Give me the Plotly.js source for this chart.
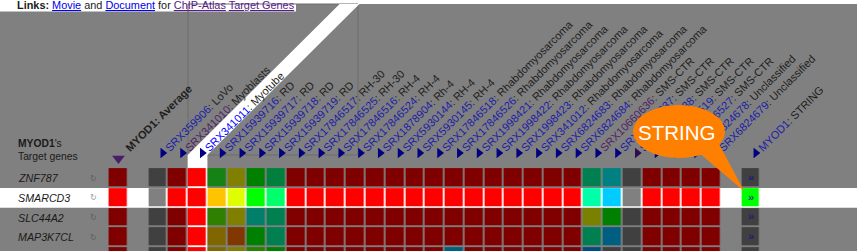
<!DOCTYPE html>
<html><head><meta charset="utf-8">
<script src="https://cdn.plot.ly/plotly-3.0.1.min.js"></script>
<style>html,body{margin:0;padding:0;background:#fff;overflow:hidden}#chart{width:860px;height:251px}</style>
</head><body><div id="chart"></div>
<script>
// ---------------- data ----------------
const geneNames = ['ZNF787', 'SMARCD3', 'SLC44A2', 'MAP3K7CL', ''];
const srxIds = ['SRX359906','SRX341010','SRX341011','SRX15939716','SRX15939717','SRX15939718','SRX15939719',
  'SRX17846517','SRX17846525','SRX17846516','SRX17846524','SRX1878904','SRX5930144','SRX5930145',
  'SRX17846518','SRX17846526','SRX1998421','SRX1998422','SRX1998423','SRX341012','SRX6824683','SRX6824684',
  'SRX10660636','SRX10660637','SRX10660638','SRX17846519','SRX17846527','SRX6824678','SRX6824679'];
const cellTypes = ['LoVo','Myoblasts','Myotube','RD','RD','RD','RD',
  'RH-30','RH-30','RH-4','RH-4','Rh-4','RH-4','RH-4',
  'Rhabdomyosarcoma','Rhabdomyosarcoma','Rhabdomyosarcoma','Rhabdomyosarcoma','Rhabdomyosarcoma','Rhabdomyosarcoma','Rhabdomyosarcoma','Rhabdomyosarcoma',
  'SMS-CTR','SMS-CTR','SMS-CTR','SMS-CTR','SMS-CTR','Unclassified','Unclassified'];
const linkState = ['link','visited','current','link','link','link','link','link','link','link','link','link','link','link',
  'link','link','link','link','link','link','link','link','visited','link','link','link','link','link','link'];
const averageLabel = 'MYOD1: Average';
const stringLabel = ['MYOD1', ': STRING'];
const selectedGene = 'SMARCD3';
const selectedExperiment = 'SRX341011';

// cell colours per gene row: [average, SRX columns 0..28, STRING]
const avgCells = ['#800000', '#ff0000', '#800000', '#800000', '#800000'];
const stringCells = ['#404040', '#00ff00', '#404040', '#404040', '#404040'];
const srxCells = [
  ['#404040','#800000','#ff0000','#148214','#808000','#008000','#00803c',
   '#800000','#800000','#800000','#800000','#800000','#800000','#800000','#800000','#800000','#800000','#800000','#800000','#800000','#800000','#800000',
   '#008050','#008080','#404040','#800000','#800000','#800000','#800000'],
  ['#808080','#ff0000','#ff0000','#ffc400','#dfff00','#00ff00','#00ff6a',
   '#ff0000','#ff0000','#ff0000','#ff0000','#ff0000','#ff0000','#ff0000','#ff0000','#ff0000','#ff0000','#ff0000','#ff0000','#ff0000','#ff0000','#ff0000',
   '#00ffa8','#00ccff','#808080','#ff0000','#ff0000','#ff0000','#ff0000'],
  ['#404040','#800000','#ff0000','#2f8000','#808000','#00806a','#008050',
   '#800000','#800000','#800000','#800000','#800000','#800000','#800000','#800000','#800000','#800000','#800000','#800000','#800000','#800000','#800000',
   '#7a8000','#008000','#404040','#800000','#800000','#800000','#800000'],
  ['#404040','#800000','#ff0000','#806600','#803800','#008000','#008050',
   '#800000','#800000','#800000','#800000','#800000','#800000','#800000','#800000','#800000','#800000','#800000','#800000','#800000','#800000','#800000',
   '#008050','#005f80','#404040','#800000','#800000','#800000','#800000'],
  ['#404040','#800000','#ff0000','#806800','#808000','#2a8000','#008000',
   '#800000','#800000','#800000','#800000','#800000','#800000','#800000','#800000','#006080','#800000','#800000','#800000','#800000','#800000','#800000',
   '#004c80','#404040','#404040','#800000','#800000','#800000','#800000']
];

// ---------------- geometry helpers (layout only) ----------------
const W = 860, H = 251;
const X0 = 158, DX = 19.77, Y0 = 178, DY = 19.8;
const px = x => x / W, py = y => 1 - y / H;
const xr = [(0 - X0) / DX, (W - X0) / DX];
const yr = [(H - Y0) / DY, (0 - Y0) / DY];
const yData = y => (y - Y0) / DY;
const FONT = 'Liberation Sans, Arial, Helvetica, sans-serif';

// column positions: average, gap, SRX columns, gap, STRING
const nSrx = srxIds.length;
const avgPos = -2, stringPos = nSrx + 1;
const colPos = [];
for (let i = avgPos; i <= stringPos; i++) colPos.push(i);

// build colour index matrix
const palette = [];
const idx = c => { if (c == null) return null; let k = palette.indexOf(c); if (k < 0) { palette.push(c); k = palette.length - 1; } return k; };
const z = geneNames.map((g, r) => {
  const row = [idx(avgCells[r]), null];
  srxCells[r].forEach(c => row.push(idx(c)));
  row.push(null, idx(stringCells[r]));
  return row;
});
const n = palette.length;
const colorscale = [];
palette.forEach((c, i) => { colorscale.push([i / n, c]); colorscale.push([(i + 1) / n, c]); });
const rowPos = geneNames.map((g, i) => i);
const namedRows = rowPos.filter(r => geneNames[r]);

const traces = [];
traces.push({
  type: 'heatmap', x: colPos, y: rowPos, z: z, zmin: -0.5, zmax: n - 0.5,
  colorscale: colorscale, showscale: false, xgap: 1.8, ygap: 1.8, hoverinfo: 'skip',
  xaxis: 'x', yaxis: 'y'
});
// STRING link marks
traces.push({
  type: 'scatter', mode: 'text', x: namedRows.map(() => stringPos), y: namedRows,
  text: namedRows.map(() => '»'), textfont: {family: FONT, size: 11, color: '#10108a'},
  hoverinfo: 'skip', xaxis: 'x', yaxis: 'y'
});
// column header triangles
const triX = [], triC = [];
srxIds.forEach((s, i) => { triX.push(i + 0.24); triC.push(i === 24 ? '#2e0c50' : '#000080'); });
triX.push(stringPos + 0.24); triC.push('#000080');
traces.push({
  type: 'scatter', mode: 'markers', x: triX, y: triX.map(() => yData(153)),
  marker: {symbol: 'triangle-right', size: 9, color: triC, line: {width: 0}},
  hoverinfo: 'skip', xaxis: 'x2', yaxis: 'y'
});
traces.push({
  type: 'scatter', mode: 'markers', x: [avgPos], y: [yData(158.5)],
  marker: {symbol: 'triangle-down', size: 11, color: '#4a1d68', line: {width: 0}},
  hoverinfo: 'skip', xaxis: 'x', yaxis: 'y'
});

// tick labels for the experiment header
const tickVals = [avgPos], tickText = ['<b>' + averageLabel + '</b>'];
srxIds.forEach((s, i) => {
  const col = linkState[i] === 'visited' ? '#4d2466' : (linkState[i] === 'current' ? '#0000ff' : '#1c1ca8');
  tickVals.push(i);
  tickText.push('<span style="color:' + col + '">' + s + '</span>: ' + cellTypes[i]);
});
tickVals.push(stringPos);
tickText.push('<span style="color:#1c1ca8">' + stringLabel[0] + '</span>' + stringLabel[1]);

const selCol = srxIds.indexOf(selectedExperiment);
const selRow = geneNames.indexOf(selectedGene);
const selL = X0 + (selCol - 0.5) * DX, selR = X0 + (selCol + 0.5) * DX;
const kink = 155;

const shapes = [
  {type: 'rect', xref: 'paper', yref: 'paper', x0: 0, x1: px(857), y0: 0, y1: py(4), fillcolor: '#808080', line: {width: 0}, layer: 'below'},
  {type: 'rect', xref: 'paper', yref: 'paper', x0: 0, x1: px(296), y0: py(11.5), y1: 1, fillcolor: '#ffffff', line: {width: 0}, layer: 'below'},
  {type: 'rect', xref: 'paper', yref: 'paper', x0: px(188), x1: px(358), y0: py(155), y1: py(4), fillcolor: 'rgba(0,0,0,0)', line: {width: 1, color: '#6c6c6c'}, layer: 'below'},
  {type: 'path', xref: 'paper', yref: 'paper', layer: 'below', fillcolor: '#ffffff', line: {width: 0},
   path: 'M' + px(selL) + ',' + py(H) + 'L' + px(selL) + ',' + py(kink) + 'L' + px(selL + kink - 3) + ',' + py(4) +
         'L' + px(selR + kink - 3) + ',' + py(4) + 'L' + px(selR) + ',' + py(kink) + 'L' + px(selR) + ',' + py(H) + 'Z'},
  {type: 'rect', xref: 'paper', yref: 'y', x0: 0, x1: px(857), y0: selRow - 0.5, y1: selRow + 0.5, fillcolor: '#ffffff', line: {width: 0}, layer: 'below'},
  // STRING callout
  {type: 'circle', xref: 'paper', yref: 'paper', x0: px(633), x1: px(725), y0: py(158), y1: py(105), fillcolor: '#ff8000', line: {width: 0}, layer: 'above'},
  {type: 'path', xref: 'paper', yref: 'paper', layer: 'above', fillcolor: '#ff8000', line: {width: 0},
   path: 'M' + px(698) + ',' + py(152) + 'L' + px(719) + ',' + py(144) + 'L' + px(744) + ',' + py(191) + 'Z'}
];

const annotations = [
  {xref: 'paper', yref: 'paper', x: px(15), y: py(4.6), xanchor: 'left', yanchor: 'middle', showarrow: false,
   font: {family: FONT, size: 10.9, color: '#1a1a1a'},
   text: '<b>Links:</b> <span style="color:#0000ee;text-decoration:underline">Movie</span> and <span style="color:#0000ee;text-decoration:underline">Document</span> for <span style="color:#551a8b;text-decoration:underline">ChIP-Atlas</span> <span style="color:#551a8b;text-decoration:underline">Target Genes</span>'},
  {xref: 'paper', yref: 'paper', x: px(16), y: py(143), xanchor: 'left', yanchor: 'middle', showarrow: false,
   font: {family: FONT, size: 10.3, color: '#1a1a1a'}, text: '<b>MYOD1</b>\'s'},
  {xref: 'paper', yref: 'paper', x: px(16), y: py(156.5), xanchor: 'left', yanchor: 'middle', showarrow: false,
   font: {family: FONT, size: 10.3, color: '#1a1a1a'}, text: 'Target genes'},
  {xref: 'paper', yref: 'paper', x: px(676), y: py(132.5), xanchor: 'center', yanchor: 'middle', showarrow: false,
   font: {family: FONT, size: 20.5, color: '#ffffff'}, text: 'STRING'}
];
namedRows.forEach(r => {
  const g = geneNames[r];
  annotations.push({xref: 'paper', yref: 'y', x: px(16), y: r, xanchor: 'left', yanchor: 'middle', showarrow: false,
    font: {family: FONT, size: 10.7, color: '#1a1a1a'}, text: '<i>' + g + '</i>'});
  annotations.push({xref: 'paper', yref: 'y', x: px(93), y: r, xanchor: 'center', yanchor: 'middle', showarrow: false,
    font: {family: 'DejaVu Sans, sans-serif', size: 8, color: r === selRow ? '#9a9a9a' : '#5e5e5e'}, text: '↻'});
});

const layout = {
  width: W, height: H, margin: {l: 0, r: 0, t: 0, b: 0, pad: 0},
  paper_bgcolor: '#ffffff', plot_bgcolor: 'rgba(0,0,0,0)', showlegend: false,
  xaxis: {range: xr, visible: false, fixedrange: true, domain: [0, 1]},
  xaxis2: {range: xr, overlaying: 'x', anchor: 'free', position: py(156), side: 'top',
    tickmode: 'array', tickvals: tickVals, ticktext: tickText, tickangle: -45, ticklabelshift: 8,
    ticks: '', showgrid: false, zeroline: false, showline: false, fixedrange: true,
    tickfont: {family: FONT, size: 11, color: '#1e1e1e'}},
  yaxis: {range: yr, visible: false, fixedrange: true, domain: [0, 1]},
  shapes: shapes, annotations: annotations
};
Plotly.newPlot('chart', traces, layout, {staticPlot: true, displayModeBar: false});
</script></body></html>
